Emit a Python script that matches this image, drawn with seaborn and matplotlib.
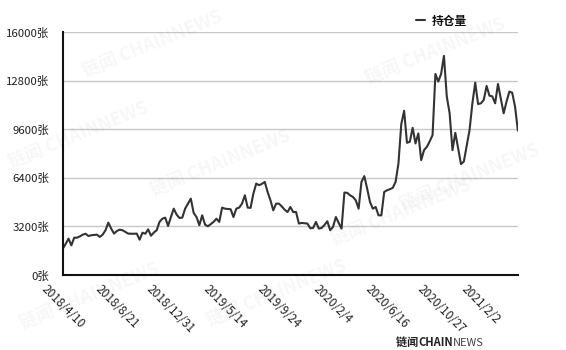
import matplotlib
matplotlib.use("Agg")
import matplotlib.pyplot as plt
import matplotlib.transforms as mtransforms
import seaborn as sns
import pandas as pd

# ---- data (weekly open interest) ----
start_date = "2018-04-10"
values = [
    1740, 2050, 2400, 1960, 2460, 2460, 2550, 2660, 2720, 2570,
    2620, 2640, 2660, 2510, 2660, 2950, 3450, 3060, 2730, 2900,
    2990, 2950, 2840, 2730, 2720, 2720, 2730, 2330, 2790, 2720,
    3010, 2590, 2800, 2950, 3500, 3710, 3780, 3230, 3820, 4370,
    3980, 3760, 3780, 4370, 4700, 5030, 4090, 3820, 3280, 3930,
    3320, 3210, 3350, 3500, 3710, 3500, 4440, 4370, 4350, 4330,
    3820, 4370, 4440, 4700, 5250, 4440, 4420, 5360, 6020, 5910,
    6000, 6130, 5470, 4920, 4260, 4700, 4700, 4510, 4300, 4150,
    4480, 4150, 4150, 3390, 3430, 3410, 3390, 3080, 3100, 3500,
    3060, 3100, 3300, 3540, 2950, 3170, 3820, 3430, 3060, 5430,
    5410, 5250, 5140, 4920, 4370, 6130, 6510, 5690, 4810, 4370,
    4480, 3930, 3930, 5470, 5580, 5650, 5740, 6130, 7340, 9930,
    10810, 8700, 8770, 9690, 8660, 9320, 7560, 8220, 8440, 8800,
    9210, 13230, 12730, 13230, 14420, 11740, 10640, 8220, 9360, 8330,
    7300, 7470, 8500, 9540, 11300, 12660, 11250, 11300, 11520, 12440,
    11800, 11760, 11300, 12570, 11600, 10640, 11410, 12070, 12000, 11080,
    9500,
]
tick_dates = ["2018/4/10", "2018/8/21", "2018/12/31", "2019/5/14", "2019/9/24",
              "2020/2/4", "2020/6/16", "2020/10/27", "2021/2/2"]
y_ticks = [0, 3200, 6400, 9600, 12800, 16000]
series_name = "持仓量"
unit = "张"

df = pd.DataFrame({
    "date": pd.date_range(start_date, periods=len(values), freq="7D"),
    "value": values,
})

sns.set_theme(style="white")
plt.rcParams["font.family"] = ["Noto Sans CJK SC", "DejaVu Sans"]

fig = plt.figure(figsize=(5.66, 3.5), dpi=100)
ax = fig.add_axes([0.111, 0.214, 0.804, 0.695])

# faint watermarks
wm = "链闻 CHAINNEWS"
for (x, y) in [(0.14, 0.78), (0.01, 0.52), (0.26, 0.44), (0.64, 0.76),
               (0.58, 0.30), (0.03, 0.06), (0.36, 0.07), (0.70, 0.40)]:
    fig.text(x, y, wm, rotation=22, fontsize=13, color="#000000", alpha=0.035,
             fontweight="bold", zorder=0)

sns.lineplot(data=df, x="date", y="value", ax=ax, color="#333333",
             linewidth=1.5, label=series_name)

ax.set_ylim(0, 16000)
ax.set_xlim(df["date"].iloc[0], df["date"].iloc[-1])
ax.set_yticks(y_ticks)
ax.set_yticklabels([f"{v}{unit}" for v in y_ticks], fontsize=8.2, color="#222222")
tick_pos = pd.to_datetime(tick_dates, format="%Y/%m/%d")
ax.set_xticks(tick_pos)
ax.set_xticklabels(tick_dates, rotation=-45, ha="center", va="top",
                   fontsize=8.5, color="#222222")
shift = mtransforms.ScaledTranslation(-5 / 72, 0, fig.dpi_scale_trans)
for lbl in ax.get_xticklabels():
    lbl.set_transform(lbl.get_transform() + shift)
ax.tick_params(axis="y", length=0, pad=10)
ax.tick_params(axis="x", length=0, pad=5)
ax.set_xlabel("")
ax.set_ylabel("")

ax.grid(axis="y", color="#c8c8c8", linewidth=1.0)
ax.grid(axis="x", visible=False)
ax.set_axisbelow(True)
for s in ["top", "right"]:
    ax.spines[s].set_visible(False)
for s in ["left", "bottom"]:
    ax.spines[s].set_color("#111111")
    ax.spines[s].set_linewidth(1.5)

leg = ax.legend(loc="center", bbox_to_anchor=(0.78, 0.94),
                bbox_transform=fig.transFigure, frameon=False,
                handlelength=0.8, handletextpad=0.6, fontsize=8.5)
for t in leg.get_texts():
    t.set_fontweight("bold")
    t.set_color("#111111")

fig.text(0.700, 0.012, "链闻 ", fontsize=8, fontweight="bold", color="#222222")
fig.text(0.740, 0.012, "CHAIN", fontsize=8, fontweight="bold", color="#222222")
fig.text(0.801, 0.012, "NEWS", fontsize=8, color="#444444")

fig.savefig("out.png", dpi=100, facecolor="white")
